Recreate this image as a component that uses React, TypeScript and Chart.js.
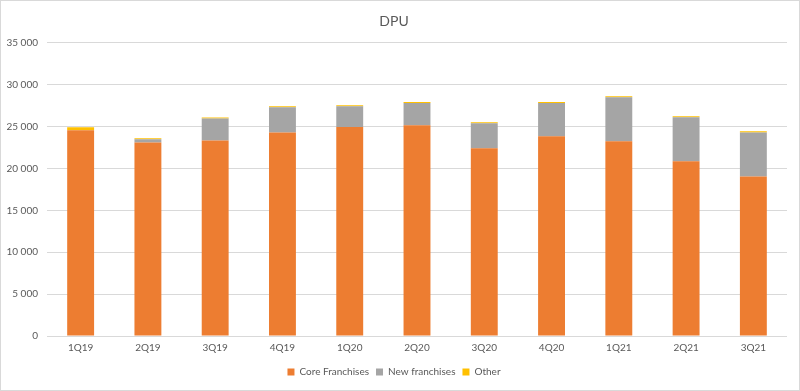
import React, { useEffect, useRef } from "react";
import { Chart, registerables } from "chart.js";

Chart.register(...registerables);

const categories = ["1Q19", "2Q19", "3Q19", "4Q19", "1Q20", "2Q20", "3Q20", "4Q20", "1Q21", "2Q21", "3Q21"];
const coreFranchises = [24550, 23100, 23350, 24300, 24950, 25150, 22400, 23850, 23250, 20850, 19050];
const newFranchises = [0, 400, 2600, 3000, 2480, 2650, 3000, 3950, 5250, 5250, 5250];
const other = [370, 110, 140, 120, 130, 120, 120, 120, 120, 120, 130];
const yTicks = [0, 5000, 10000, 15000, 20000, 25000, 30000, 35000];

const FONT = "Lato, 'Open Sans', sans-serif";
const TEXT = "#595959";
const GRID = "#d9d9d9";

function fmt(v: number): string {
  const s = Math.round(v).toString();
  return s.replace(/\B(?=(\d{3})+(?!\d))/g, " ");
}

export default function App() {
  const ref = useRef<HTMLCanvasElement | null>(null);
  useEffect(() => {
    if (!ref.current) return;
    const chart = new Chart(ref.current, {
      type: "bar",
      data: {
        labels: categories,
        datasets: [
          { label: "Core Franchises", data: coreFranchises, backgroundColor: "#ed7d31" },
          { label: "New franchises", data: newFranchises, backgroundColor: "#a5a5a5" },
          { label: "Other", data: other, backgroundColor: "#ffc000" },
        ],
      },
      options: {
        responsive: false,
        maintainAspectRatio: false,
        animation: false,
        layout: { padding: { left: 0, right: 12, top: 0, bottom: 3 } },
        datasets: { bar: { categoryPercentage: 1, barPercentage: 0.4 } },
        plugins: {
          title: {
            display: true,
            text: "DPU",
            color: TEXT,
            font: { family: FONT, size: 14, weight: "normal" },
            padding: { top: 12, bottom: 13 },
          },
          legend: {
            position: "bottom",
            labels: {
              color: TEXT,
              font: { family: FONT, size: 10 },
              boxWidth: 7,
              boxHeight: 7,
              padding: 7,
            },
          },
          tooltip: { enabled: false },
        },
        scales: {
          x: {
            stacked: true,
            grid: { display: false, drawTicks: false },
            border: { display: false },
            ticks: { color: TEXT, font: { family: FONT, size: 10 }, padding: 6, maxRotation: 0 },
          },
          y: {
            stacked: true,
            min: 0,
            max: 35000,
            afterFit: (scale: any) => { scale.width = 46; },
            afterBuildTicks: (scale: any) => { scale.ticks = yTicks.map((v) => ({ value: v })); },
            grid: { color: GRID, drawTicks: false },
            border: { display: false },
            ticks: {
              color: TEXT,
              font: { family: FONT, size: 10 },
              padding: 9,
              callback: (v: any) => fmt(Number(v)),
            },
          },
        },
      },
    });
    return () => chart.destroy();
  }, []);
  return (
    <div
      style={{
        position: "fixed",
        left: 0,
        top: 0,
        width: 800,
        height: 391,
        boxSizing: "border-box",
        border: "1px solid #d9d9d9",
        background: "#fff",
      }}
    >
      <canvas ref={ref} width={798} height={389} style={{ display: "block" }} />
    </div>
  );
}
